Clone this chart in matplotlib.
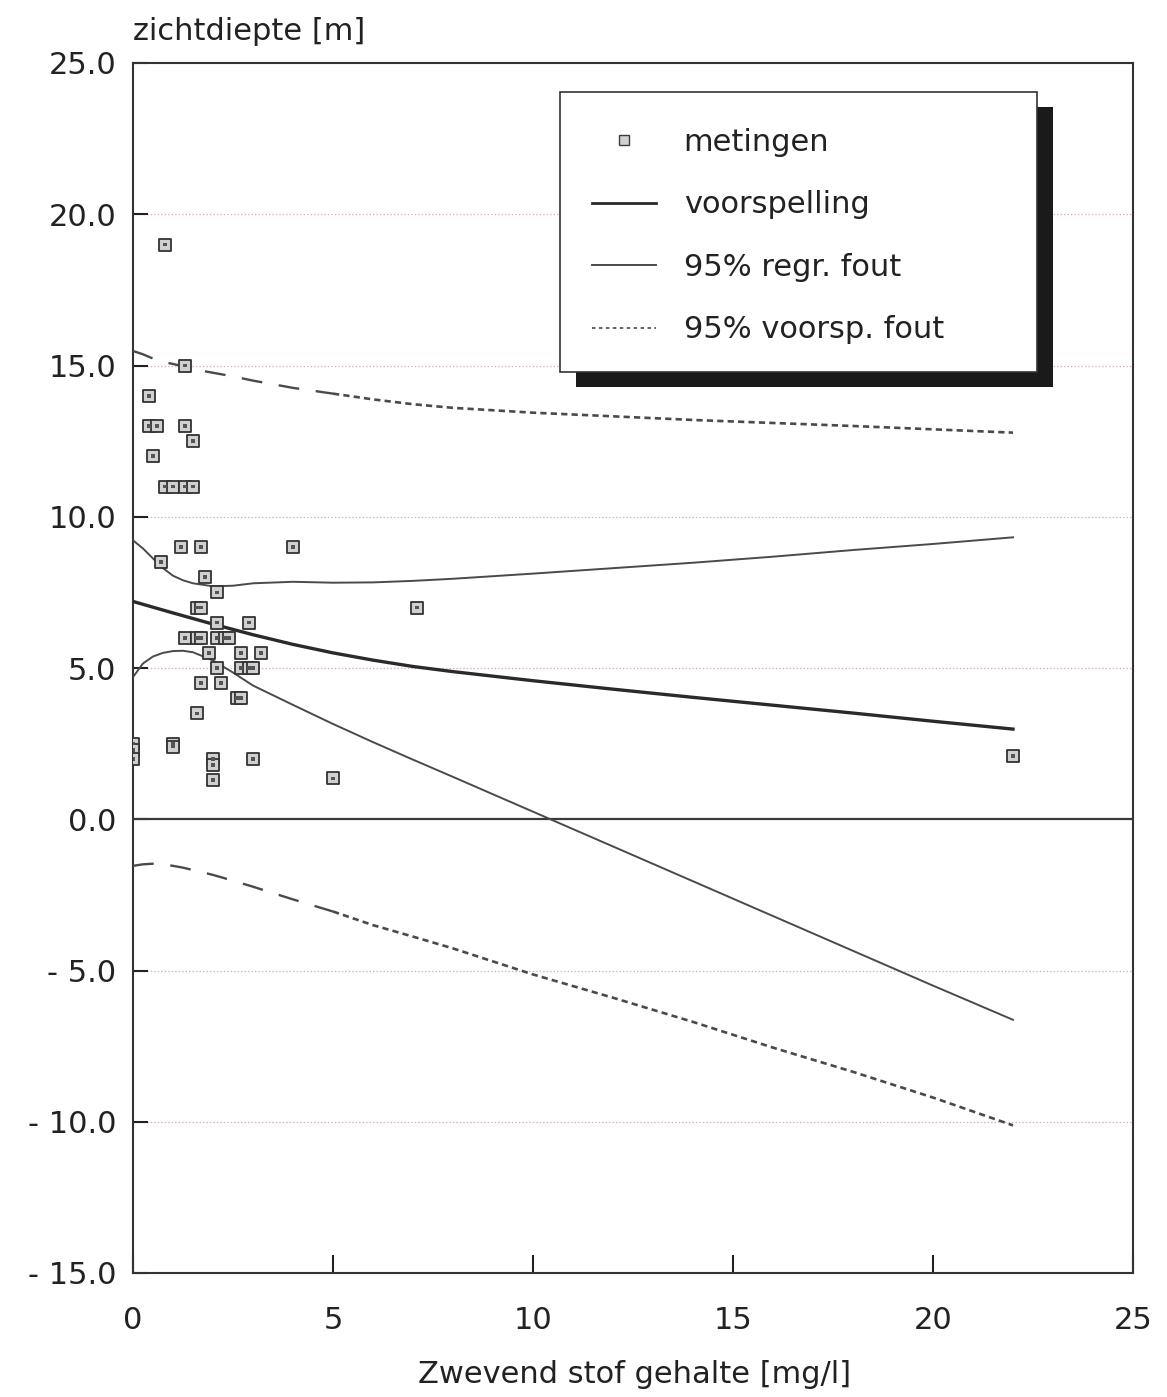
import matplotlib
matplotlib.use("Agg")
import matplotlib.pyplot as plt
from matplotlib.patches import Rectangle
from matplotlib.lines import Line2D
import numpy as np

plt.rcParams['font.family'] = ['DejaVu Sans']
plt.rcParams['lines.scale_dashes'] = False

# ---- data ----
meas_x = [0.8, 1.3, 0.4, 0.4, 0.6, 1.3, 1.5, 0.5, 0.8, 1.0, 1.3, 1.5,
          1.2, 1.7, 0.7, 1.8, 2.1, 4.0, 7.1, 1.6, 1.7, 2.1, 2.9,
          1.3, 1.6, 1.7, 2.1, 2.3, 2.4, 1.9, 2.7, 3.2,
          2.1, 2.7, 2.9, 3.0, 1.7, 2.2, 2.6, 2.7, 1.6,
          0.0, 0.0, 0.0, 1.0, 1.0, 2.0, 2.0, 2.0, 3.0, 5.0, 22.0]
meas_y = [19.0, 15.0, 14.0, 13.0, 13.0, 13.0, 12.5, 12.0, 11.0, 11.0, 11.0, 11.0,
          9.0, 9.0, 8.5, 8.0, 7.5, 9.0, 7.0, 7.0, 7.0, 6.5, 6.5,
          6.0, 6.0, 6.0, 6.0, 6.0, 6.0, 5.5, 5.5, 5.5,
          5.0, 5.0, 5.0, 5.0, 4.5, 4.5, 4.0, 4.0, 3.5,
          2.5, 2.3, 2.0, 2.5, 2.4, 2.0, 1.8, 1.3, 2.0, 1.35, 2.1]

pred_x = [0, 1, 2, 3, 4, 5, 6, 7, 8, 10, 12, 14, 16, 18, 20, 22]
pred_y = [7.20, 6.82, 6.45, 6.10, 5.78, 5.50, 5.26, 5.05, 4.88, 4.58, 4.30,
          4.03, 3.77, 3.51, 3.24, 2.98]

band_x = [0, 0.25, 0.5, 0.75, 1, 1.25, 1.5, 2, 2.5, 3, 4, 5, 6, 7, 8, 10,
          12, 14, 16, 18, 20, 22]
reg_upper = [9.22, 8.95, 8.62, 8.30, 8.05, 7.90, 7.80, 7.70, 7.72, 7.80, 7.85,
             7.82, 7.83, 7.88, 7.95, 8.12, 8.30, 8.48, 8.68, 8.90, 9.10, 9.32]
reg_lower = [4.70, 5.15, 5.38, 5.50, 5.56, 5.57, 5.52, 5.25, 4.85, 4.42, 3.78,
             3.15, 2.55, 1.97, 1.40, 0.25, -0.90, -2.05, -3.20, -4.35, -5.50, -6.63]
vp_upper = [15.48, 15.37, 15.23, 15.12, 15.05, 14.98, 14.88, 14.76, 14.64, 14.50,
            14.26, 14.07, 13.88, 13.72, 13.60, 13.44, 13.32, 13.20, 13.10, 13.00,
            12.89, 12.78]
vp_lower = [-1.54, -1.49, -1.47, -1.49, -1.54, -1.60, -1.68, -1.84, -2.03, -2.23,
            -2.65, -3.05, -3.50, -3.88, -4.27, -5.13, -5.90, -6.70, -7.55, -8.35,
            -9.20, -10.12]

yticks = [-15, -10, -5, 0, 5, 10, 15, 20, 25]
ytick_labels = ["- 15.0", "- 10.0", "- 5.0", "0.0", "5.0", "10.0", "15.0", "20.0", "25.0"]
xticks = [0, 5, 10, 15, 20, 25]
xtick_labels = ["0", "5", "10", "15", "20", "25"]
grid_y = [-10, -5, 5, 10, 15, 20]

labels = ["metingen", "voorspelling", "95% regr. fout", "95% voorsp. fout"]

# ---- figure ----
fig = plt.figure(figsize=(11.67, 13.97), dpi=100)
ax = fig.add_axes([133/1167, 1 - 1273/1397, 1000/1167, 1210/1397])
ax.set_xlim(0, 25)
ax.set_ylim(-15, 25)

for g in grid_y:
    ax.axhline(g, color='#d7aeb0', lw=0.9, ls=(0, (1, 1.5)), zorder=1)
ax.axhline(0, color='#3a3a3a', lw=1.6, zorder=2)

line_col = '#4a4a4a'
ax.plot(pred_x, pred_y, color='#2a2a2a', lw=2.4, zorder=3)
ax.plot(band_x, reg_upper, color=line_col, lw=1.4, zorder=3)
ax.plot(band_x, reg_lower, color=line_col, lw=1.4, zorder=3)

bx = np.array(band_x)
m1 = bx <= 5
m2 = bx >= 5
for arr in (vp_upper, vp_lower):
    a = np.array(arr)
    ax.plot(bx[m1], a[m1], color=line_col, lw=1.7, ls=(0, (15, 12)), zorder=3)
    ax.plot(bx[m2], a[m2], color=line_col, lw=1.9, ls=(0, (4.5, 3)), zorder=3)

ax.scatter(meas_x, meas_y, marker='s', s=80, facecolor='#d0d0d0',
           edgecolor='#333333', linewidths=1.3, zorder=4)
ax.scatter(meas_x, meas_y, marker='s', s=7, facecolor='#555555',
           edgecolor='none', zorder=5)

# axes styling
for sp in ax.spines.values():
    sp.set_linewidth(1.5)
    sp.set_color('#333333')
ax.set_yticks(yticks)
ax.set_yticklabels(ytick_labels)
ax.set_xticks(xticks)
ax.set_xticklabels(xtick_labels)
ax.tick_params(axis='y', direction='in', length=11, width=1.5, pad=12,
               labelsize=22, colors='#222222')
ax.tick_params(axis='x', direction='in', length=13, width=1.5, pad=24,
               labelsize=22, colors='#222222')

fig.text(133/1167, 1 - 40/1397, "zichtdiepte [m]", fontsize=22,
         va='baseline', ha='left', color='#222222')
fig.text(635/1167, 1 - 1383/1397, "Zwevend stof gehalte [mg/l]", fontsize=22,
         va='baseline', ha='center', color='#222222')

# legend box with shadow
ax.add_patch(Rectangle((0.443, 0.7322), 0.477, 0.2314, transform=ax.transAxes,
                       facecolor='#1a1a1a', edgecolor='none', zorder=6))
ax.add_patch(Rectangle((0.427, 0.7446), 0.477, 0.2314, transform=ax.transAxes,
                       facecolor='white', edgecolor='#333333', lw=1.2, zorder=7))

h_meas = Line2D([], [], marker='s', ls='none', markersize=6.5,
                markerfacecolor='#d0d0d0', markeredgecolor='#3c3c3c', markeredgewidth=1.0)
h_pred = Line2D([], [], color='#2a2a2a', lw=2.0)
h_reg = Line2D([], [], color=line_col, lw=1.4)
h_vp = Line2D([], [], color=line_col, lw=1.2, ls=(0, (2.5, 2.5)))
leg = ax.legend([h_meas, h_pred, h_reg, h_vp], labels, loc='center left',
                bbox_to_anchor=(0.459, 0.857), frameon=False, fontsize=22,
                handlelength=2.1, handletextpad=0.9, labelspacing=1.1,
                borderpad=0, borderaxespad=0, numpoints=1)
leg.set_zorder(8)
for t in leg.get_texts():
    t.set_color('#222222')

fig.savefig("out.png", dpi=100)
